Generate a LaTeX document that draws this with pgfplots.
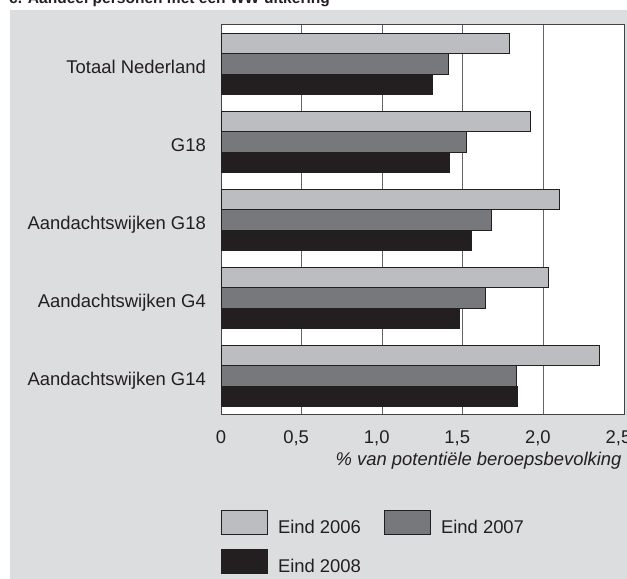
\documentclass[border=0pt]{standalone}
\usepackage{fontspec}
\setmainfont{Liberation Sans}
\usepackage{pgfplots}
\pgfplotsset{compat=1.18}
\definecolor{panel}{HTML}{DCDDDE}
\definecolor{c06}{HTML}{BCBDC0}
\definecolor{c07}{HTML}{77787B}
\definecolor{c08}{HTML}{231F20}
\definecolor{gridc}{HTML}{646568}
\definecolor{txt}{HTML}{231F20}
\newcommand{\fs}{\fontsize{18.5}{22}\selectfont}
\begin{document}
\begin{tikzpicture}[x=1bp,y=1bp]
\path[use as bounding box, clip] (0,0) rectangle (627,579);
\fill[panel] (10,0) rectangle (627,569);
\node[anchor=base west, font=\bfseries\fontsize{15.6}{18}\selectfont, text=txt, inner sep=0pt] at (9,575) {c. Aandeel personen met een WW-uitkering};
\begin{axis}[
  at={(221bp,164bp)}, anchor=south west,
  scale only axis, width=403bp, height=390bp,
  xbar, bar width=20.6bp,
  xmin=0, xmax=2.5, ymin=-0.5, ymax=4.5,
  axis background/.style={fill=white},
  axis line style={draw=c08!85, line width=1bp},
  xmajorgrids, grid style={draw=gridc, line width=1bp},
  major tick length=0pt,
  xtick={0,0.5,1,1.5,2,2.5},
  xticklabels={{\hspace*{11bp}0},{0,5},{1,0},{1,5},{2,0},{2,5}},
  ytick={0,1,2,3,4},
  yticklabels={Aandachtswijken G14, Aandachtswijken G4, Aandachtswijken G18, G18, Totaal Nederland},
  xticklabel style={font=\fs, text=txt, anchor=base, inner sep=0pt, yshift=-29bp, xshift=-5.5bp},
  yticklabel style={font=\fs, text=txt, anchor=base east, inner sep=0pt, xshift=-15bp, yshift=-9.1bp},
  xlabel={\itshape \% van potentiële beroepsbevolking},
  xlabel style={font=\fs, text=txt, at={(axis description cs:1,0)}, anchor=base east, inner sep=0pt, xshift=-2.3bp, yshift=-51bp},
  legend columns=2,
  legend style={at={(0,0)}, anchor=north west, yshift=-95bp, draw=none, fill=none,
    inner sep=0pt, outer sep=0pt, font=\fs, text=txt, row sep=14bp,
    nodes={inner sep=0pt, anchor=base west},
    /tikz/every odd column/.append style={column sep=10bp},
    /tikz/every even column/.append style={column sep=23bp}},
  legend image code/.code={\draw[#1, line width=1bp] (0bp,-0.3bp) rectangle (46bp,23.2bp);},
]
\addplot[fill=c06, draw=c08, line width=1bp, bar shift=20.6bp] coordinates {(1.79,4) (1.92,3) (2.10,2) (2.03,1) (2.35,0)};
\addplot[fill=c07, draw=c08, line width=1bp, bar shift=0bp] coordinates {(1.41,4) (1.525,3) (1.68,2) (1.64,1) (1.83,0)};
\addplot[fill=c08, draw=c08, line width=1bp, bar shift=-20.6bp] coordinates {(1.31,4) (1.42,3) (1.555,2) (1.477,1) (1.84,0)};
\legend{Eind 2006, Eind 2007, Eind 2008}
\end{axis}
\end{tikzpicture}
\end{document}
